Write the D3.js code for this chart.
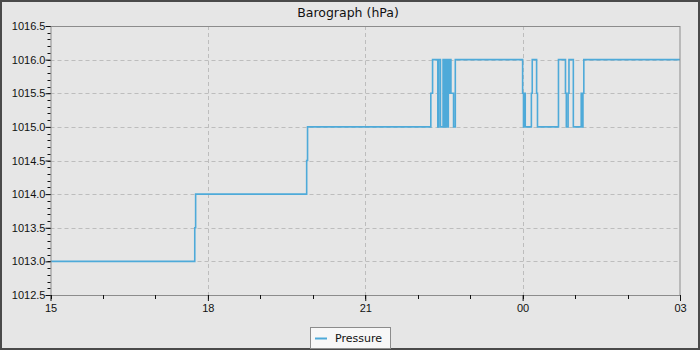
<!DOCTYPE html>
<html>

<head>
  <title>Barograph</title>
  <script type="text/javascript" src="https://cdn.jsdelivr.net/npm/d3@7"></script>
  <style>
    body { margin: 0; background: #fff; }
    svg { display: block; font-family: "DejaVu Sans", sans-serif; }
  </style>
</head>

<body>
  <script type="text/javascript">
    // Stoerrelse
    const w = 700;
    const h = 350;
    const margin = { top: 26, right: 20, bottom: 55, left: 50.5 };

    // Data: tidspunkter (15:00 til 03:00 naeste dag) og tryk i hPa
    const times = ["15:00", "17:45", "17:46", "19:53", "19:54",
      "22:15", "22:17", "22:23", "22:24", "22:26", "22:29", "22:30", "22:31",
      "22:32", "22:33", "22:34", "22:35", "22:36", "22:37", "22:38", "22:41",
      "22:43", "00:00", "00:01", "00:02", "00:03", "00:10", "00:11", "00:16",
      "00:17", "00:41", "00:49", "00:50", "00:52", "00:53", "00:58", "01:07",
      "01:08", "01:09", "01:10", "03:00"];
    const pressure = [1013, 1013.5, 1014, 1014.5, 1015,
      1015.5, 1016, 1015, 1016, 1015, 1016, 1015, 1016,
      1015, 1016, 1015, 1016, 1015.5, 1016, 1015.5, 1015,
      1016, 1015.5, 1015, 1015.5, 1015, 1015.5, 1016, 1015.5,
      1015, 1016, 1015.5, 1015, 1015.5, 1016, 1015, 1015.5,
      1015, 1015.5, 1016, 1016];
    const yTicks = [1012.5, 1013.0, 1013.5, 1014.0, 1014.5, 1015.0, 1015.5, 1016.0, 1016.5];
    const xTickLabels = ["15", "18", "21", "00", "03"];

    // Lav datoer ud fra tiderne (dag skifter ved midnat)
    const parse = d3.timeParse("%Y-%m-%d %H:%M");
    const data = times.map(function (t, i) {
      const day = t < "15:00" ? "2024-01-02" : "2024-01-01";
      return { date: parse(day + " " + t), value: pressure[i] };
    });

    const start = parse("2024-01-01 15:00");
    const end = parse("2024-01-02 03:00");

    const xScale = d3.scaleTime()
      .domain([start, end])
      .range([margin.left, w - margin.right]);

    const yScale = d3.scaleLinear()
      .domain([1012.5, 1016.5])
      .range([h - margin.bottom, margin.top]);

    const svg = d3.select("body")
      .append("svg")
      .attr("width", w)
      .attr("height", h);

    // Baggrund og ramme
    svg.append("rect")
      .attr("x", 1)
      .attr("y", 1)
      .attr("width", w - 2)
      .attr("height", h - 2)
      .attr("fill", "#e6e6e6")
      .attr("stroke", "#4a4a4a")
      .attr("stroke-width", 2);

    // Titel
    svg.append("text")
      .attr("x", w / 2 - 2)
      .attr("y", 17)
      .attr("text-anchor", "middle")
      .attr("font-size", 12.5)
      .attr("fill", "#111")
      .text("Barograph (hPa)");

    const x0 = margin.left;
    const x1 = w - margin.right;
    const y0 = h - margin.bottom;
    const y1 = margin.top;

    const majorX = d3.timeHour.every(3).range(start, d3.timeMinute.offset(end, 1));
    const minorX = d3.timeHour.every(1).range(start, d3.timeMinute.offset(end, 1));
    const minorY = d3.range(125, 166).map(function (d) { return d / 10; }).filter(function (d) { return true; })
      .map(function (d) { return d + 1000; });

    // Gitter
    svg.append("g")
      .selectAll("line")
      .data(yTicks.slice(1, -1))
      .enter()
      .append("line")
      .attr("x1", x0)
      .attr("x2", x1)
      .attr("y1", function (d) { return Math.round(yScale(d)) + 0.5; })
      .attr("y2", function (d) { return Math.round(yScale(d)) + 0.5; })
      .attr("stroke", "#bdbdbd")
      .attr("stroke-dasharray", "4,3");

    svg.append("g")
      .selectAll("line")
      .data(majorX.slice(1, -1))
      .enter()
      .append("line")
      .attr("x1", function (d) { return Math.round(xScale(d)) + 0.5; })
      .attr("x2", function (d) { return Math.round(xScale(d)) + 0.5; })
      .attr("y1", y1)
      .attr("y2", y0)
      .attr("stroke", "#bdbdbd")
      .attr("stroke-dasharray", "4,3");

    // Linje (trappeform)
    const line = d3.line()
      .x(function (d) { return xScale(d.date); })
      .y(function (d) { return yScale(d.value); })
      .curve(d3.curveStepAfter);

    svg.append("path")
      .datum(data)
      .attr("d", line)
      .attr("fill", "none")
      .attr("stroke", "#4eaad9")
      .attr("stroke-width", 1.6);

    // Ramme om plot
    svg.append("rect")
      .attr("x", x0 + 0.5)
      .attr("y", y1 + 0.5)
      .attr("width", x1 - x0 - 0.5)
      .attr("height", y0 - y1)
      .attr("fill", "none")
      .attr("stroke", "#8c8c8c");

    // Y-akse
    const yAxis = d3.axisLeft(yScale)
      .tickValues(yTicks)
      .tickFormat(d3.format(".1f"))
      .tickSize(5)
      .tickSizeOuter(0);

    const gy = svg.append("g")
      .attr("transform", "translate(" + x0 + ",0)")
      .call(yAxis);
    gy.select(".domain").remove();
    gy.selectAll("text").attr("font-size", 11).attr("fill", "#111").attr("x", -5).attr("dx", 0);
    gy.selectAll("line").attr("stroke", "#111");

    svg.append("g")
      .selectAll("line")
      .data(minorY)
      .enter()
      .append("line")
      .attr("x1", x0 - 3)
      .attr("x2", x0)
      .attr("y1", function (d) { return Math.round(yScale(d)) + 0.5; })
      .attr("y2", function (d) { return Math.round(yScale(d)) + 0.5; })
      .attr("stroke", "#111");

    // X-akse
    const xAxis = d3.axisBottom(xScale)
      .tickValues(majorX)
      .tickFormat(function (d, i) { return xTickLabels[i]; })
      .tickSize(6)
      .tickSizeOuter(0);

    const gx = svg.append("g")
      .attr("transform", "translate(0," + y0 + ")")
      .call(xAxis);
    gx.select(".domain").remove();
    gx.selectAll("text").attr("font-size", 11).attr("fill", "#111").attr("y", 9);
    gx.selectAll("line").attr("stroke", "#111");

    svg.append("g")
      .selectAll("line")
      .data(minorX)
      .enter()
      .append("line")
      .attr("x1", function (d) { return Math.round(xScale(d)) + 0.5; })
      .attr("x2", function (d) { return Math.round(xScale(d)) + 0.5; })
      .attr("y1", y0)
      .attr("y2", y0 + 4)
      .attr("stroke", "#111");

    // Legende
    const legend = svg.append("g");
    legend.append("rect")
      .attr("x", 310.5)
      .attr("y", 327.5)
      .attr("width", 80)
      .attr("height", 21)
      .attr("fill", "#f7f7f7")
      .attr("stroke", "#8c8c8c");
    legend.append("line")
      .attr("x1", 315)
      .attr("x2", 327)
      .attr("y1", 338.5)
      .attr("y2", 338.5)
      .attr("stroke", "#4eaad9")
      .attr("stroke-width", 2);
    legend.append("text")
      .attr("x", 335)
      .attr("y", 341.5)
      .attr("font-size", 11)
      .attr("fill", "#111")
      .text("Pressure");
  </script>
</body>

</html>
